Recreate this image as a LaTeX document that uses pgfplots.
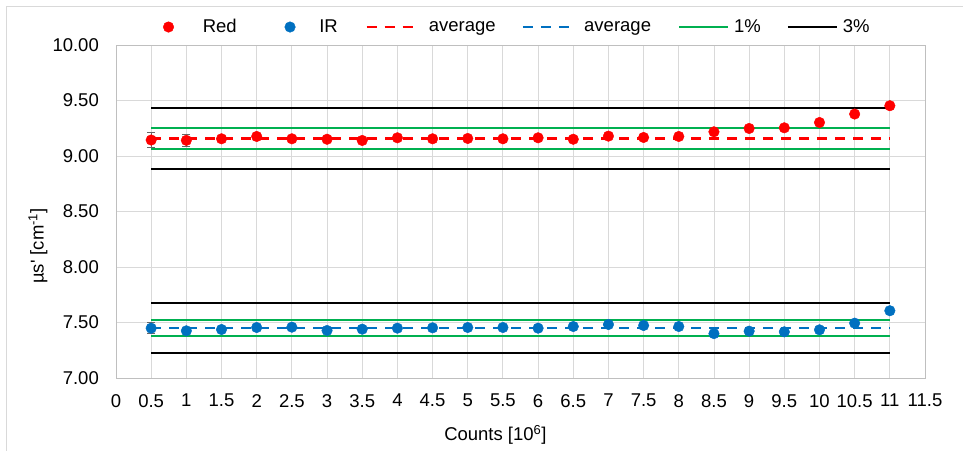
\documentclass[border=0pt]{standalone}
\usepackage{pgfplots}
\pgfplotsset{compat=1.18}
\usepackage{fontspec}
\setmainfont{Liberation Sans}
\definecolor{exred}{HTML}{FF0000}
\definecolor{exblue}{HTML}{0070C0}
\definecolor{exgreen}{HTML}{00B050}
\newcommand{\fs}{\fontsize{18.5}{22}\selectfont}
\begin{document}
\begin{tikzpicture}
\useasboundingbox (0,0) rectangle (963pt,450pt);
\draw[black!15, line width=1pt] (6.5pt,-5pt) -- (6.5pt,443.5pt) -- (975pt,443.5pt);
\begin{axis}[
  at={(116pt,72pt)}, anchor=south west,
  scale only axis, width=809pt, height=333pt,
  xmin=0, xmax=11.5, ymin=7, ymax=10,
  xtick distance=0.5, ytick={7,7.5,...,10},
  major tick length=0pt,
  grid=major, grid style={black!15, line width=0.9pt},
  axis line style={black!25, line width=0.9pt},
  /pgf/number format/assume math mode=true,
  tick label style={font=\fs},
  xticklabel style={inner sep=0pt, anchor=north, yshift=-16pt},
  yticklabel style={inner sep=0pt, anchor=east, xshift=-17pt,
    /pgf/number format/.cd, fixed, fixed zerofill, precision=2},
  xlabel={Counts [10\textsuperscript{6}]},
  ylabel={µs\textquotesingle{} [cm\textsuperscript{-1}]},
  label style={font=\fs},
  xlabel style={at={(axis description cs:0.469,-0.171)}, anchor=center},
  ylabel style={at={(axis description cs:-0.0964,0.396)}, anchor=center},
  legend columns=6,
  legend cell align=left,
  legend style={at={(axis description cs:0.0581,1.054)}, anchor=west,
    draw=none, fill=none, inner sep=0pt, font=\fs,
    nodes={inner sep=0pt},
    /tikz/column 1/.style={column sep=29pt},
    /tikz/column 2/.style={column sep=48pt},
    /tikz/column 3/.style={column sep=24pt},
    /tikz/column 4/.style={column sep=27.5pt},
    /tikz/column 5/.style={column sep=12pt},
    /tikz/column 6/.style={column sep=26pt},
    /tikz/column 7/.style={column sep=11pt},
    /tikz/column 8/.style={column sep=27pt},
    /tikz/column 9/.style={column sep=5pt},
    /tikz/column 10/.style={column sep=26pt},
    /tikz/column 11/.style={column sep=5pt},
  },
  linelegend/.style={legend image code/.code={\draw[##1] (0pt,0pt) -- (49pt,0pt);}},
  marklegend/.style={legend image code/.code={\draw[##1] plot coordinates {(5pt,0pt)};}},
]
% legend images for the scatter series
\addlegendimage{only marks, mark=*, mark size=5.3pt, exred, marklegend}
\addlegendentry{Red}
\addlegendimage{only marks, mark=*, mark size=5.3pt, exblue, marklegend}
\addlegendentry{IR}
% averages
\addplot[exred, line width=2.5pt, dash pattern=on 10pt off 8pt, linelegend] coordinates {(0.5,9.157) (11,9.157)};
\addlegendentry{average}
\addplot[exblue, line width=2.5pt, dash pattern=on 10pt off 8pt, linelegend] coordinates {(0.5,7.450) (11,7.450)};
\addlegendentry{average}
% 1% limits
\addplot[exgreen, line width=2pt, linelegend] coordinates {(0.5,9.250) (11,9.250)};
\addlegendentry{1\%}
% 3% limits
\addplot[black, line width=2pt, linelegend] coordinates {(0.5,9.433) (11,9.433)};
\addlegendentry{3\%}
\addplot[exgreen, line width=2pt, forget plot] coordinates {(0.5,9.065) (11,9.065)};
\addplot[black, line width=2pt, forget plot] coordinates {(0.5,8.882) (11,8.882)};
\addplot[exgreen, line width=2pt, forget plot] coordinates {(0.5,7.525) (11,7.525)};
\addplot[exgreen, line width=2pt, forget plot] coordinates {(0.5,7.376) (11,7.376)};
\addplot[black, line width=2pt, forget plot] coordinates {(0.5,7.674) (11,7.674)};
\addplot[black, line width=2pt, forget plot] coordinates {(0.5,7.227) (11,7.227)};
% Red data
\addplot[only marks, mark=*, mark size=5.3pt, exred, forget plot,
  error bars/.cd, y dir=both, y explicit,
  error bar style={black!60, line width=1pt},
  error mark options={rotate=90, mark size=4pt, black!60, line width=1pt}]
  coordinates {
  (0.5,9.144) +- (0,0.065)
  (1,9.141) +- (0,0.052)
  (1.5,9.155) +- (0,0)
  (2,9.176) +- (0,0)
  (2.5,9.155) +- (0,0)
  (3,9.151) +- (0,0)
  (3.5,9.140) +- (0,0)
  (4,9.164) +- (0,0)
  (4.5,9.155) +- (0,0)
  (5,9.158) +- (0,0)
  (5.5,9.155) +- (0,0)
  (6,9.164) +- (0,0)
  (6.5,9.151) +- (0,0)
  (7,9.179) +- (0,0)
  (7.5,9.167) +- (0,0)
  (8,9.176) +- (0,0)
  (8.5,9.218) +- (0,0)
  (9,9.248) +- (0,0)
  (9.5,9.254) +- (0,0)
  (10,9.302) +- (0,0)
  (10.5,9.378) +- (0,0)
  (11,9.453) +- (0,0)
  };
% IR data
\addplot[only marks, mark=*, mark size=5.3pt, exblue, forget plot,
  error bars/.cd, y dir=both, y explicit,
  error bar style={black!60, line width=1pt},
  error mark options={rotate=90, mark size=4pt, black!60, line width=1pt}]
  coordinates {
  (0.5,7.449) +- (0,0.052)
  (1,7.425) +- (0,0)
  (1.5,7.437) +- (0,0)
  (2,7.455) +- (0,0)
  (2.5,7.458) +- (0,0)
  (3,7.428) +- (0,0)
  (3.5,7.440) +- (0,0)
  (4,7.449) +- (0,0)
  (4.5,7.452) +- (0,0)
  (5,7.455) +- (0,0)
  (5.5,7.455) +- (0,0)
  (6,7.449) +- (0,0)
  (6.5,7.464) +- (0,0)
  (7,7.482) +- (0,0)
  (7.5,7.473) +- (0,0)
  (8,7.464) +- (0,0)
  (8.5,7.400) +- (0,0)
  (9,7.422) +- (0,0)
  (9.5,7.416) +- (0,0)
  (10,7.434) +- (0,0)
  (10.5,7.494) +- (0,0)
  (11,7.606) +- (0,0)
  };
\end{axis}
\end{tikzpicture}
\end{document}
